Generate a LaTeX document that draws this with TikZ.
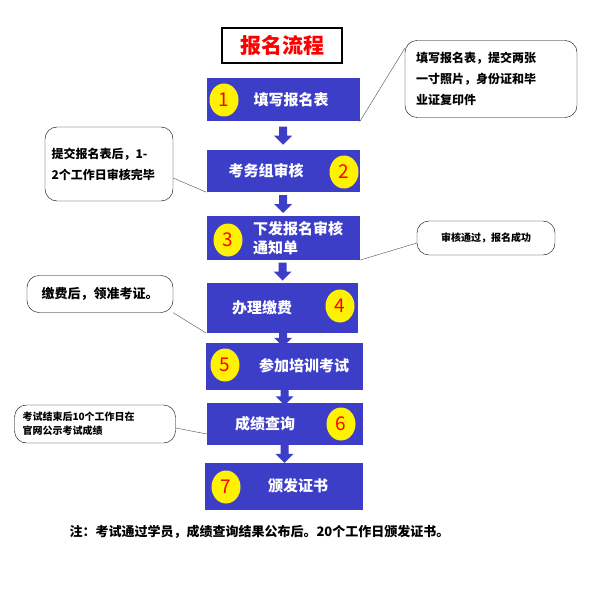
\documentclass[tikz,border=0pt]{standalone}
\usepackage{fontspec}
\setmainfont{Noto Sans CJK SC}
\definecolor{stepblue}{RGB}{60,62,200}
\tikzset{
  stepbox/.style={fill=stepblue,text=white,font=\bfseries\fontsize{15}{19}\selectfont,align=left,inner sep=0pt},
  numdot/.style={circle,fill=yellow,text=red,minimum width=29pt,minimum height=33pt,ellipse,inner sep=0pt,font=\fontsize{19}{19}\selectfont},
  callout/.style={draw,rounded corners=12pt,align=left,font=\bfseries\fontsize{12}{21}\selectfont,inner sep=0pt},
  tie/.style={gray!60!black,thin}
}
\usetikzlibrary{shapes.geometric}
\newcommand\downarr[2]{% block arrow between two step boxes
  \path (#1.south) -- coordinate[pos=0.5] (m) (#2.north);
  \fill[stepblue] (m) ++(-4,-9) -- ++(8,0) -- ++(0,9) -- ++(5,0) -- ++(-9,9) -- ++(-9,-9) -- ++(5,0) -- cycle;}
\begin{document}
\begin{tikzpicture}[x=1pt,y=-1pt]
\useasboundingbox (0,0) rectangle (603,604);
% title
\node[draw,line width=2pt,minimum width=120pt,minimum height=35pt,text=red,font=\bfseries\fontsize{21}{21}\selectfont] (title) at (282,46) {报名流程};
% steps
\node[stepbox,minimum width=153pt,minimum height=43pt] (s1) at (283,100) {\hspace*{16pt}填写报名表};
\node[stepbox,minimum width=153pt,minimum height=42pt] (s2) at (283,171) {考务组审核\hspace*{34pt}};
\node[stepbox,minimum width=153pt,minimum height=44pt] (s3) at (283,238) {\hspace*{30pt}下发报名审核\\\hspace*{30pt}通知单};
\node[stepbox,minimum width=151pt,minimum height=50pt] (s4) at (282,308) {办理缴费\hspace*{40pt}};
\node[stepbox,minimum width=157pt,minimum height=47pt] (s5) at (284,366) {\hspace*{40pt}参加培训考试};
\node[stepbox,minimum width=156pt,minimum height=42pt] (s6) at (285,424) {成绩查询\hspace*{40pt}};
\node[stepbox,minimum width=158pt,minimum height=47pt] (s7) at (284,486) {\hspace*{28pt}颁发证书};
% numbers
\node[numdot] (n1) at (224,100) {1};
\node[numdot] (n2) at (344,172) {2};
\node[numdot] (n3) at (228,240) {3};
\node[numdot] (n4) at (340,306) {4};
\node[numdot] (n5) at (225,365) {5};
\node[numdot] (n6) at (341,424) {6};
\node[numdot] (n7) at (226,487) {7};
% arrows
\downarr{s1}{s2}\downarr{s2}{s3}\downarr{s3}{s4}
\downarr{s4}{s5}\downarr{s5}{s6}\downarr{s6}{s7}
% callouts
\node[callout,minimum width=172pt,minimum height=77pt,text width=150pt] (c1) at (491,79) {填写报名表，提交两张\\一寸照片，身份证和毕\\业证复印件};
\node[callout,minimum width=128pt,minimum height=74pt,text width=115pt] (c2) at (109,164) {提交报名表后，1-\\2个工作日审核完毕};
\node[callout,minimum width=138pt,minimum height=34pt,font=\bfseries\fontsize{10}{12}\selectfont] (c3) at (486,238) {审核通过，报名成功};
\node[callout,minimum width=146pt,minimum height=37pt,font=\bfseries\fontsize{13}{15}\selectfont] (c4) at (100,294) {缴费后，领准考证。};
\node[callout,minimum width=161pt,minimum height=38pt,text width=145pt,font=\bfseries\fontsize{10}{14}\selectfont] (c6) at (95,424) {考试结束后10个工作日在\\官网公示考试成绩};
\draw[tie] (c1.north west) ++(0,8) coordinate (t1) -- (s1.south east);
\draw[tie] (c2.east) ++(0,14) coordinate (t2) -- (s2.south west);
\draw[tie] (c3.west) ++(0,5) coordinate (t3) -- (s3.south east);
\draw[tie] (c4.south east) -- (s4.south west);
\draw[tie] (c6.east) ++(0,4) coordinate (t6) -- ([yshift=-10pt]s6.west);
% note
\node[font=\bfseries\fontsize{13}{15}\selectfont,anchor=west] (note) at (66,532) {注：考试通过学员，成绩查询结果公布后。20个工作日颁发证书。};
\end{tikzpicture}
\end{document}
